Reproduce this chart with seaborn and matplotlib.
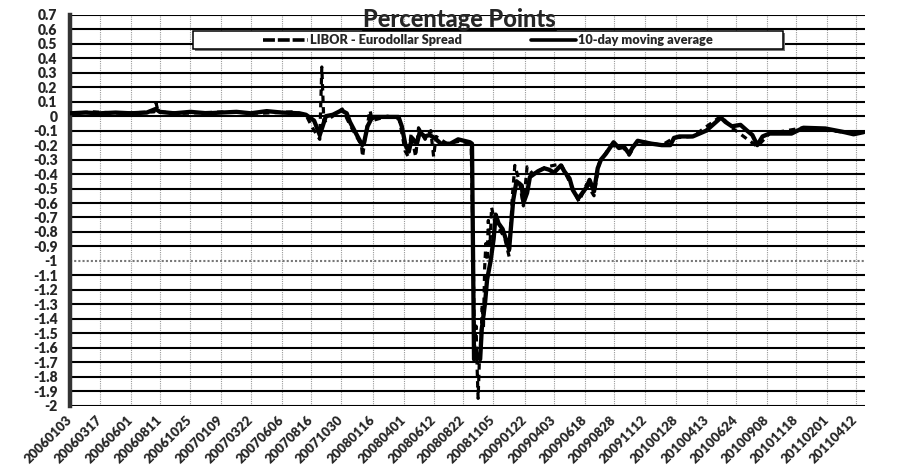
import matplotlib

matplotlib.use("Agg")

import matplotlib.pyplot as plt
import numpy as np
import pandas as pd
import seaborn as sns
from matplotlib.lines import Line2D
from matplotlib.patches import Rectangle
from matplotlib.ticker import FuncFormatter

# category labels shown under the x axis (Excel-style yyyymmdd)
TICK_LABELS = [
    "20060103", "20060317", "20060601", "20060811", "20061025", "20070109",
    "20070322", "20070606", "20070816", "20071030", "20080116", "20080401",
    "20080612", "20080822", "20081105", "20090122", "20090403", "20090618",
    "20090828", "20091112", "20100128", "20100413", "20100624", "20100908",
    "20101118", "20110201", "20110412",
]
X_START = "2006-01-03"
X_END = "2011-05-05"

# 10-day moving average
MA_DATES = [
    "2006-01-03", "2006-02-10", "2006-03-17", "2006-04-25", "2006-06-01", "2006-07-10",
    "2006-08-01", "2006-08-11", "2006-09-15", "2006-10-25", "2006-12-05", "2007-01-09",
    "2007-02-15", "2007-03-22", "2007-04-30", "2007-06-06", "2007-07-19", "2007-08-04",
    "2007-08-24", "2007-09-07", "2007-09-14", "2007-09-22", "2007-10-09", "2007-10-30",
    "2007-11-12", "2007-11-20", "2007-12-03", "2007-12-20", "2007-12-24", "2008-01-02",
    "2008-01-11", "2008-01-19", "2008-02-22", "2008-03-18", "2008-03-26", "2008-04-04",
    "2008-04-12", "2008-04-20", "2008-05-02", "2008-05-09", "2008-05-21", "2008-06-02",
    "2008-06-14", "2008-06-30", "2008-07-23", "2008-08-11", "2008-09-09", "2008-09-14",
    "2008-09-19", "2008-09-27", "2008-10-04", "2008-10-08", "2008-10-16", "2008-10-21",
    "2008-10-29", "2008-11-06", "2008-11-11", "2008-11-18", "2008-11-28", "2008-12-06",
    "2008-12-14", "2008-12-24", "2009-01-01", "2009-01-14", "2009-01-18", "2009-01-27",
    "2009-02-03", "2009-02-23", "2009-03-10", "2009-03-22", "2009-04-03", "2009-04-20",
    "2009-04-28", "2009-05-11", "2009-05-19", "2009-06-01", "2009-06-09", "2009-06-22",
    "2009-06-29", "2009-07-10", "2009-07-19", "2009-07-27", "2009-08-08", "2009-08-20",
    "2009-08-27", "2009-09-09", "2009-09-21", "2009-10-04", "2009-10-12", "2009-10-25",
    "2009-11-10", "2009-11-28", "2009-12-23", "2010-01-13", "2010-01-22", "2010-02-04",
    "2010-03-09", "2010-04-11", "2010-04-27", "2010-05-17", "2010-05-28", "2010-06-13",
    "2010-07-04", "2010-07-20", "2010-08-02", "2010-08-14", "2010-08-27", "2010-09-13",
    "2010-11-06", "2010-12-05", "2011-01-28", "2011-03-15", "2011-04-07", "2011-05-02",
]
MA_VALUES = [
    0.02, 0.025, 0.02, 0.025, 0.02, 0.025,
    0.05, 0.03, 0.02, 0.03, 0.02, 0.025,
    0.03, 0.02, 0.035, 0.025, 0.02, 0.01,
    -0.03, -0.13, -0.07, 0.0, 0.01, 0.04,
    0.02, -0.04, -0.11, -0.20, -0.19, -0.07,
    -0.02, -0.005, -0.005, -0.005, -0.07, -0.20,
    -0.245, -0.15, -0.19, -0.11, -0.14, -0.13,
    -0.15, -0.19, -0.19, -0.16, -0.18, -0.19,
    -1.68, -1.65, -1.68, -1.47, -1.29, -1.13,
    -1.01, -0.85, -0.68, -0.74, -0.78, -0.85,
    -0.92, -0.58, -0.45, -0.48, -0.60, -0.53,
    -0.42, -0.38, -0.36, -0.37, -0.39, -0.34,
    -0.38, -0.43, -0.51, -0.57, -0.54, -0.49,
    -0.44, -0.52, -0.36, -0.30, -0.26, -0.21,
    -0.18, -0.22, -0.21, -0.26, -0.22, -0.17,
    -0.18, -0.19, -0.20, -0.20, -0.15, -0.14,
    -0.14, -0.10, -0.06, -0.01, -0.04, -0.07,
    -0.06, -0.10, -0.13, -0.20, -0.14, -0.12,
    -0.12, -0.08, -0.085, -0.11, -0.125, -0.11,
]

# daily LIBOR - Eurodollar spread (only the visible excursions)
SPREAD_DATES = [
    "2006-01-03", "2006-03-01", "2006-05-10", "2006-07-28", "2006-08-02", "2006-08-07",
    "2006-10-10", "2007-01-20", "2007-04-15", "2007-07-01", "2007-08-04", "2007-08-20",
    "2007-09-07", "2007-09-12", "2007-09-17", "2007-10-09", "2007-11-01", "2007-11-20",
    "2007-12-18", "2007-12-21", "2007-12-27", "2008-01-08", "2008-01-14", "2008-02-20",
    "2008-03-20", "2008-04-03", "2008-04-11", "2008-04-18", "2008-04-29", "2008-05-06",
    "2008-05-22", "2008-06-05", "2008-06-12", "2008-06-18", "2008-07-15", "2008-08-20",
    "2008-09-12", "2008-09-17", "2008-09-20", "2008-09-24", "2008-09-27", "2008-09-29",
    "2008-10-02", "2008-10-06", "2008-10-09", "2008-10-12", "2008-10-15", "2008-10-18",
    "2008-10-21", "2008-10-24", "2008-10-28", "2008-11-01", "2008-11-08", "2008-11-20",
    "2008-12-03", "2008-12-14", "2008-12-22", "2008-12-28", "2009-01-08", "2009-01-18",
    "2009-01-27", "2009-02-10", "2009-03-15", "2009-04-20", "2009-05-19", "2009-06-03",
    "2009-06-22", "2009-07-10", "2009-07-22", "2009-08-20", "2009-09-21", "2009-10-04",
    "2009-10-25", "2009-12-23", "2010-01-22", "2010-03-09", "2010-05-17", "2010-06-13",
    "2010-08-14", "2010-09-13", "2010-12-05", "2011-03-15", "2011-05-02",
]
SPREAD_VALUES = [
    0.02, 0.03, 0.02, 0.03, 0.09, 0.03,
    0.02, 0.03, 0.02, 0.03, 0.01, -0.08,
    -0.16, 0.34, -0.04, 0.0, 0.05, -0.06,
    -0.20, -0.28, -0.15, 0.04, -0.03, 0.0,
    -0.02, -0.24, -0.28, -0.12, -0.28, -0.08,
    -0.16, -0.10, -0.28, -0.14, -0.19, -0.17,
    -0.20, -0.95, -1.60, -1.45, -1.78, -1.95,
    -1.70, -1.56, -1.30, -1.47, -1.05, -0.88,
    -1.00, -0.72, -0.90, -0.63, -0.72, -0.78,
    -0.84, -0.97, -0.55, -0.34, -0.45, -0.62,
    -0.35, -0.40, -0.35, -0.33, -0.50, -0.59,
    -0.47, -0.55, -0.33, -0.20, -0.22, -0.27,
    -0.17, -0.20, -0.15, -0.14, 0.0, -0.08,
    -0.21, -0.12, -0.08, -0.11, -0.11,
]

Y_TICKS = np.round(np.arange(0.7, -2.05, -0.1), 1)

W, H = 899, 466


def _fmt_y(value, _pos):
    value = round(value, 1)
    if value == 0:
        return "0"
    return f"{value:g}"


def main() -> None:
    sns.set_theme(style="white")
    plt.rcParams["font.family"] = ["Lato", "DejaVu Sans"]
    plt.rcParams["font.weight"] = "bold"

    ma = pd.DataFrame({"date": pd.to_datetime(MA_DATES), "value": MA_VALUES})
    spread = pd.DataFrame({"date": pd.to_datetime(SPREAD_DATES), "value": SPREAD_VALUES})
    tick_dates = pd.to_datetime(TICK_LABELS, format="%Y%m%d")

    fig = plt.figure(figsize=(W / 100, H / 100), dpi=100)
    ax = fig.add_axes([70 / W, 1 - 405.6 / H, 795 / W, (405.6 - 14.9) / H])

    sns.lineplot(data=spread, x="date", y="value", ax=ax, color="black",
                 linewidth=2.3, linestyle=(0, (2.0, 1.6)), zorder=3)
    sns.lineplot(data=ma, x="date", y="value", ax=ax, color="black",
                 linewidth=3.1, zorder=4)

    ax.set_xlim(pd.Timestamp(X_START), pd.Timestamp(X_END))
    ax.set_ylim(-2, 0.7)
    ax.set_xlabel("")
    ax.set_ylabel("")

    ax.set_yticks(Y_TICKS)
    ax.yaxis.set_major_formatter(FuncFormatter(_fmt_y))
    ax.set_xticks(tick_dates)
    ax.set_xticklabels(TICK_LABELS, rotation=45, ha="right", va="center",
                       rotation_mode="anchor")
    ax.tick_params(axis="x", length=0, pad=9, labelsize=9.5)
    ax.tick_params(axis="y", length=0, pad=9, labelsize=10)
    for lab in ax.get_xticklabels() + ax.get_yticklabels():
        lab.set_fontweight("heavy")

    ax.grid(axis="y", color="black", linewidth=1.5, linestyle="-")
    ax.grid(axis="x", color="#9a9a9a", linewidth=0.8, linestyle=(0, (1, 1)))
    for value, line in zip(ax.get_yticks(), ax.get_ygridlines()):
        if abs(value + 1) < 1e-6:
            line.set_color("#777777")
            line.set_linestyle((0, (1, 1)))
            line.set_linewidth(1.5)
    ax.set_axisbelow(True)

    for side in ("top", "right", "bottom"):
        ax.spines[side].set_visible(False)
    ax.spines["left"].set_color("#333333")
    ax.spines["left"].set_linewidth(3.2)

    # legend box with a small drop shadow
    x0, y0, bw, bh = 193 / W, 1 - 49.3 / H, 590 / W, 18.3 / H
    fig.add_artist(Rectangle((x0 + 2 / W, y0 - 2 / H), bw, bh, transform=fig.transFigure,
                             facecolor="#777777", edgecolor="none", zorder=2))
    fig.add_artist(Rectangle((x0, y0), bw, bh, transform=fig.transFigure,
                             facecolor="white", edgecolor="black", linewidth=1.1, zorder=3))
    handles = [
        Line2D([], [], color="black", linewidth=2.6, linestyle=(0, (3.3, 0.8))),
        Line2D([], [], color="black", linewidth=2.6),
    ]
    fig.legend(handles, ["LIBOR - Eurodollar Spread", "10-day moving average"],
               loc="center", bbox_to_anchor=(488 / W, 1 - 40 / H), ncol=2,
               frameon=False, handlelength=3.5, handletextpad=0.2,
               columnspacing=5.4, prop={"weight": "heavy", "size": 9.2})

    title = fig.text(459.5 / W, 1 - 27 / H, "Percentage Points", ha="center",
                     va="baseline", fontsize=17, fontweight="black", zorder=5)
    fig.canvas.draw()
    bb = title.get_window_extent().transformed(fig.transFigure.inverted())
    fig.add_artist(Line2D([bb.x0, bb.x1], [1 - 29.5 / H, 1 - 29.5 / H], transform=fig.transFigure,
                          color="black", linewidth=1.6, zorder=5))

    fig.savefig("out.png", dpi=100)
    plt.close(fig)


if __name__ == "__main__":
    main()
